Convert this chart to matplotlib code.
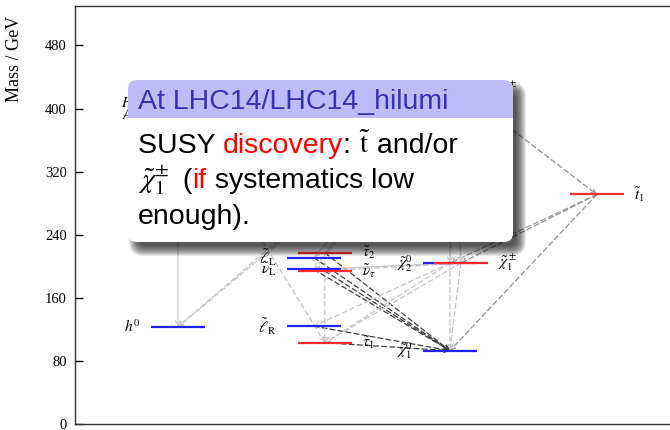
import matplotlib.pyplot as plt
from matplotlib.patches import FancyBboxPatch, Rectangle

plt.rcParams["mathtext.fontset"] = "stix"
plt.rcParams["font.family"] = ["Liberation Serif", "DejaVu Serif"]

# mass spectrum (GeV), one entry per state
particles = ["h0", "H0", "A0", "eL", "snuL", "eR", "stau1", "stau2", "snutau",
             "N1", "N2", "N3", "N4", "C1", "C2", "t1"]
labels = [r"$h^0$", r"$H^0$", r"$A^0$",
          r"$\tilde{\ell}_\mathrm{L}$", r"$\tilde{\nu}_\mathrm{L}$", r"$\tilde{\ell}_\mathrm{R}$",
          r"$\tilde{\tau}_1$", r"$\tilde{\tau}_2$", r"$\tilde{\nu}_\tau$",
          r"$\tilde{\chi}_1^0$", r"$\tilde{\chi}_2^0$", r"$\tilde{\chi}_3^0$", r"$\tilde{\chi}_4^0$",
          r"$\tilde{\chi}_1^\pm$", r"$\tilde{\chi}_2^\pm$", r"$\tilde{t}_1$"]
masses = [123, 407, 392, 211, 196, 124, 103, 217, 194, 93, 204, 410, 421, 204, 423, 291]
columns = [1, 1, 1, 2, 2, 2, 2, 2, 2, 3, 3, 3, 3, 3, 3, 4]
# third generation / charged states sit to the right and carry their label on the right
right_side = [False, False, False, False, False, False, True, True, True,
              False, False, False, False, True, True, True]

# decays: parent -> daughter, with branching ratio used for the line shade
decay_from = ["eL", "snuL", "stau2", "snutau", "eR", "stau1",
              "t1", "t1", "t1", "C2",
              "H0", "A0", "H0", "N3", "N4", "N2", "C1", "N3", "N4", "C2",
              "N3", "N4", "C2", "N2", "N2", "N2", "C1", "C1", "C1", "stau2",
              "N3", "N4", "C2", "C2", "N3"]
decay_to = ["N1", "N1", "N1", "N1", "N1", "N1",
            "N1", "C1", "N2", "t1",
            "h0", "h0", "stau1", "h0", "h0", "N1", "N1", "N2", "N2", "C1",
            "C1", "C1", "N2", "eR", "stau1", "snuL", "snuL", "snutau", "stau1", "stau1",
            "eL", "snuL", "eL", "snuL", "stau2"]
decay_br = [0.9, 0.9, 0.9, 0.9, 0.9, 0.9,
            0.45, 0.45, 0.4, 0.45,
            0.1, 0.1, 0.15, 0.15, 0.15, 0.15, 0.15, 0.1, 0.1, 0.1,
            0.1, 0.1, 0.1, 0.15, 0.15, 0.15, 0.15, 0.15, 0.15, 0.15,
            0.1, 0.1, 0.1, 0.1, 0.1]

yticks = [0, 80, 160, 240, 320, 400, 480]

HALF = 0.2      # half width of a level, in column units
SHIFT = 0.08    # offset of right-hand states
GAP = 0.075     # label distance from level end

fig = plt.figure(figsize=(6.7, 4.3), dpi=100)
ax = fig.add_axes([75 / 670, 6 / 430, 595 / 670, 418 / 430])
ax.set_xlim(0.243, 4.618)
ax.set_ylim(0, 530)


def centre(name):
    i = particles.index(name)
    return columns[i] + (SHIFT if right_side[i] else 0.0), masses[i]


# decay arrows underneath the levels
for src, dst, br in zip(decay_from, decay_to, decay_br):
    shade = str(0.88 - 0.7 * br)
    ax.annotate("", xy=centre(dst), xytext=centre(src),
                arrowprops=dict(arrowstyle="->", color=shade, lw=0.9,
                                linestyle=(0, (4, 2.5)), shrinkA=0, shrinkB=0,
                                mutation_scale=8),
                zorder=1)

# mass levels and their labels
for name, lab, m, col, right in zip(particles, labels, masses, columns, right_side):
    x = col + (SHIFT if right else 0.0)
    colour = "#ff2a2a" if right else "#2222ff"
    ax.hlines(m, x - HALF, x + HALF, color=colour, lw=1.6, zorder=3)
    if right:
        ax.text(x + HALF + GAP, m, lab, ha="left", va="center", fontsize=11, zorder=4)
    else:
        ax.text(x - HALF - GAP, m, lab, ha="right", va="center", fontsize=11, zorder=4)

ax.set_yticks(yticks)
ax.set_xticks([])
ax.tick_params(axis="y", direction="in", length=5.5, width=1, pad=6, labelsize=10.5)
ax.spines["right"].set_visible(False)
for side in ["left", "bottom", "top"]:
    ax.spines[side].set_linewidth(1.0)
    ax.spines[side].set_color("#333333")
ax.set_ylabel("Mass / GeV", fontsize=13)
ax.yaxis.set_label_coords(-0.088, 0.873)

# overlay block in pixel coordinates
box_ax = fig.add_axes([0, 0, 1, 1], zorder=10)
box_ax.set_xlim(0, 670)
box_ax.set_ylim(430, 0)
box_ax.axis("off")

bx0, by0, bx1, by1 = 128, 80, 513, 242
rad = 9
for k in range(11):
    pad = 6 - k
    sh = FancyBboxPatch((bx0 + 7, by0 + 8), bx1 - bx0, by1 - by0,
                        boxstyle=f"round,pad={pad},rounding_size={rad + max(pad, 0)}",
                        fc="black", ec="none", alpha=0.09)
    box_ax.add_patch(sh)

body = FancyBboxPatch((bx0, by0), bx1 - bx0, by1 - by0,
                      boxstyle=f"round,pad=0,rounding_size={rad}", fc="white", ec="none")
box_ax.add_patch(body)
header = FancyBboxPatch((bx0, by0), bx1 - bx0, by1 - by0,
                        boxstyle=f"round,pad=0,rounding_size={rad}", fc="#bcbcf9", ec="none")
box_ax.add_patch(header)
header.set_clip_path(Rectangle((bx0, by0), bx1 - bx0, 38, transform=box_ax.transData))

SANS = ["Liberation Sans", "DejaVu Sans"]
FS = 20.5
renderer = fig.canvas.get_renderer()


def text_width(s):
    t = box_ax.text(0, 0, s, family=SANS, fontsize=FS)
    w = t.get_window_extent(renderer).width
    t.remove()
    return w


def draw_runs(x, y, runs, nudge=0.0):
    # pieces of one line in different colours; nudge widens the gap after a math piece
    bar = text_width("|")
    prefix = ""
    extra = 0.0
    for s, c in runs:
        off = text_width(prefix + "|") - bar if prefix else 0.0
        box_ax.text(x + off + extra, y, s, color=c, family=SANS, fontsize=FS, va="baseline")
        if s.startswith("$"):
            extra += nudge
        prefix += s


box_ax.text(138, 109, "At LHC14/LHC14_hilumi", color="#3333b3", family=SANS,
            fontsize=FS, va="baseline")
draw_runs(138, 153, [("SUSY ", "black"), ("discovery", "red"), (": ", "black"),
                     (r"$\tilde{\mathrm{t}}$", "black"), (" and/or", "black")], nudge=2)
draw_runs(138, 188, [(r"$\tilde{\chi}_1^{\pm}$", "black"), (" (", "black"),
                      ("if", "red"), (" systematics low", "black")], nudge=6)
draw_runs(138, 224, [("enough).", "black")])

fig.savefig("out.png", dpi=100)
